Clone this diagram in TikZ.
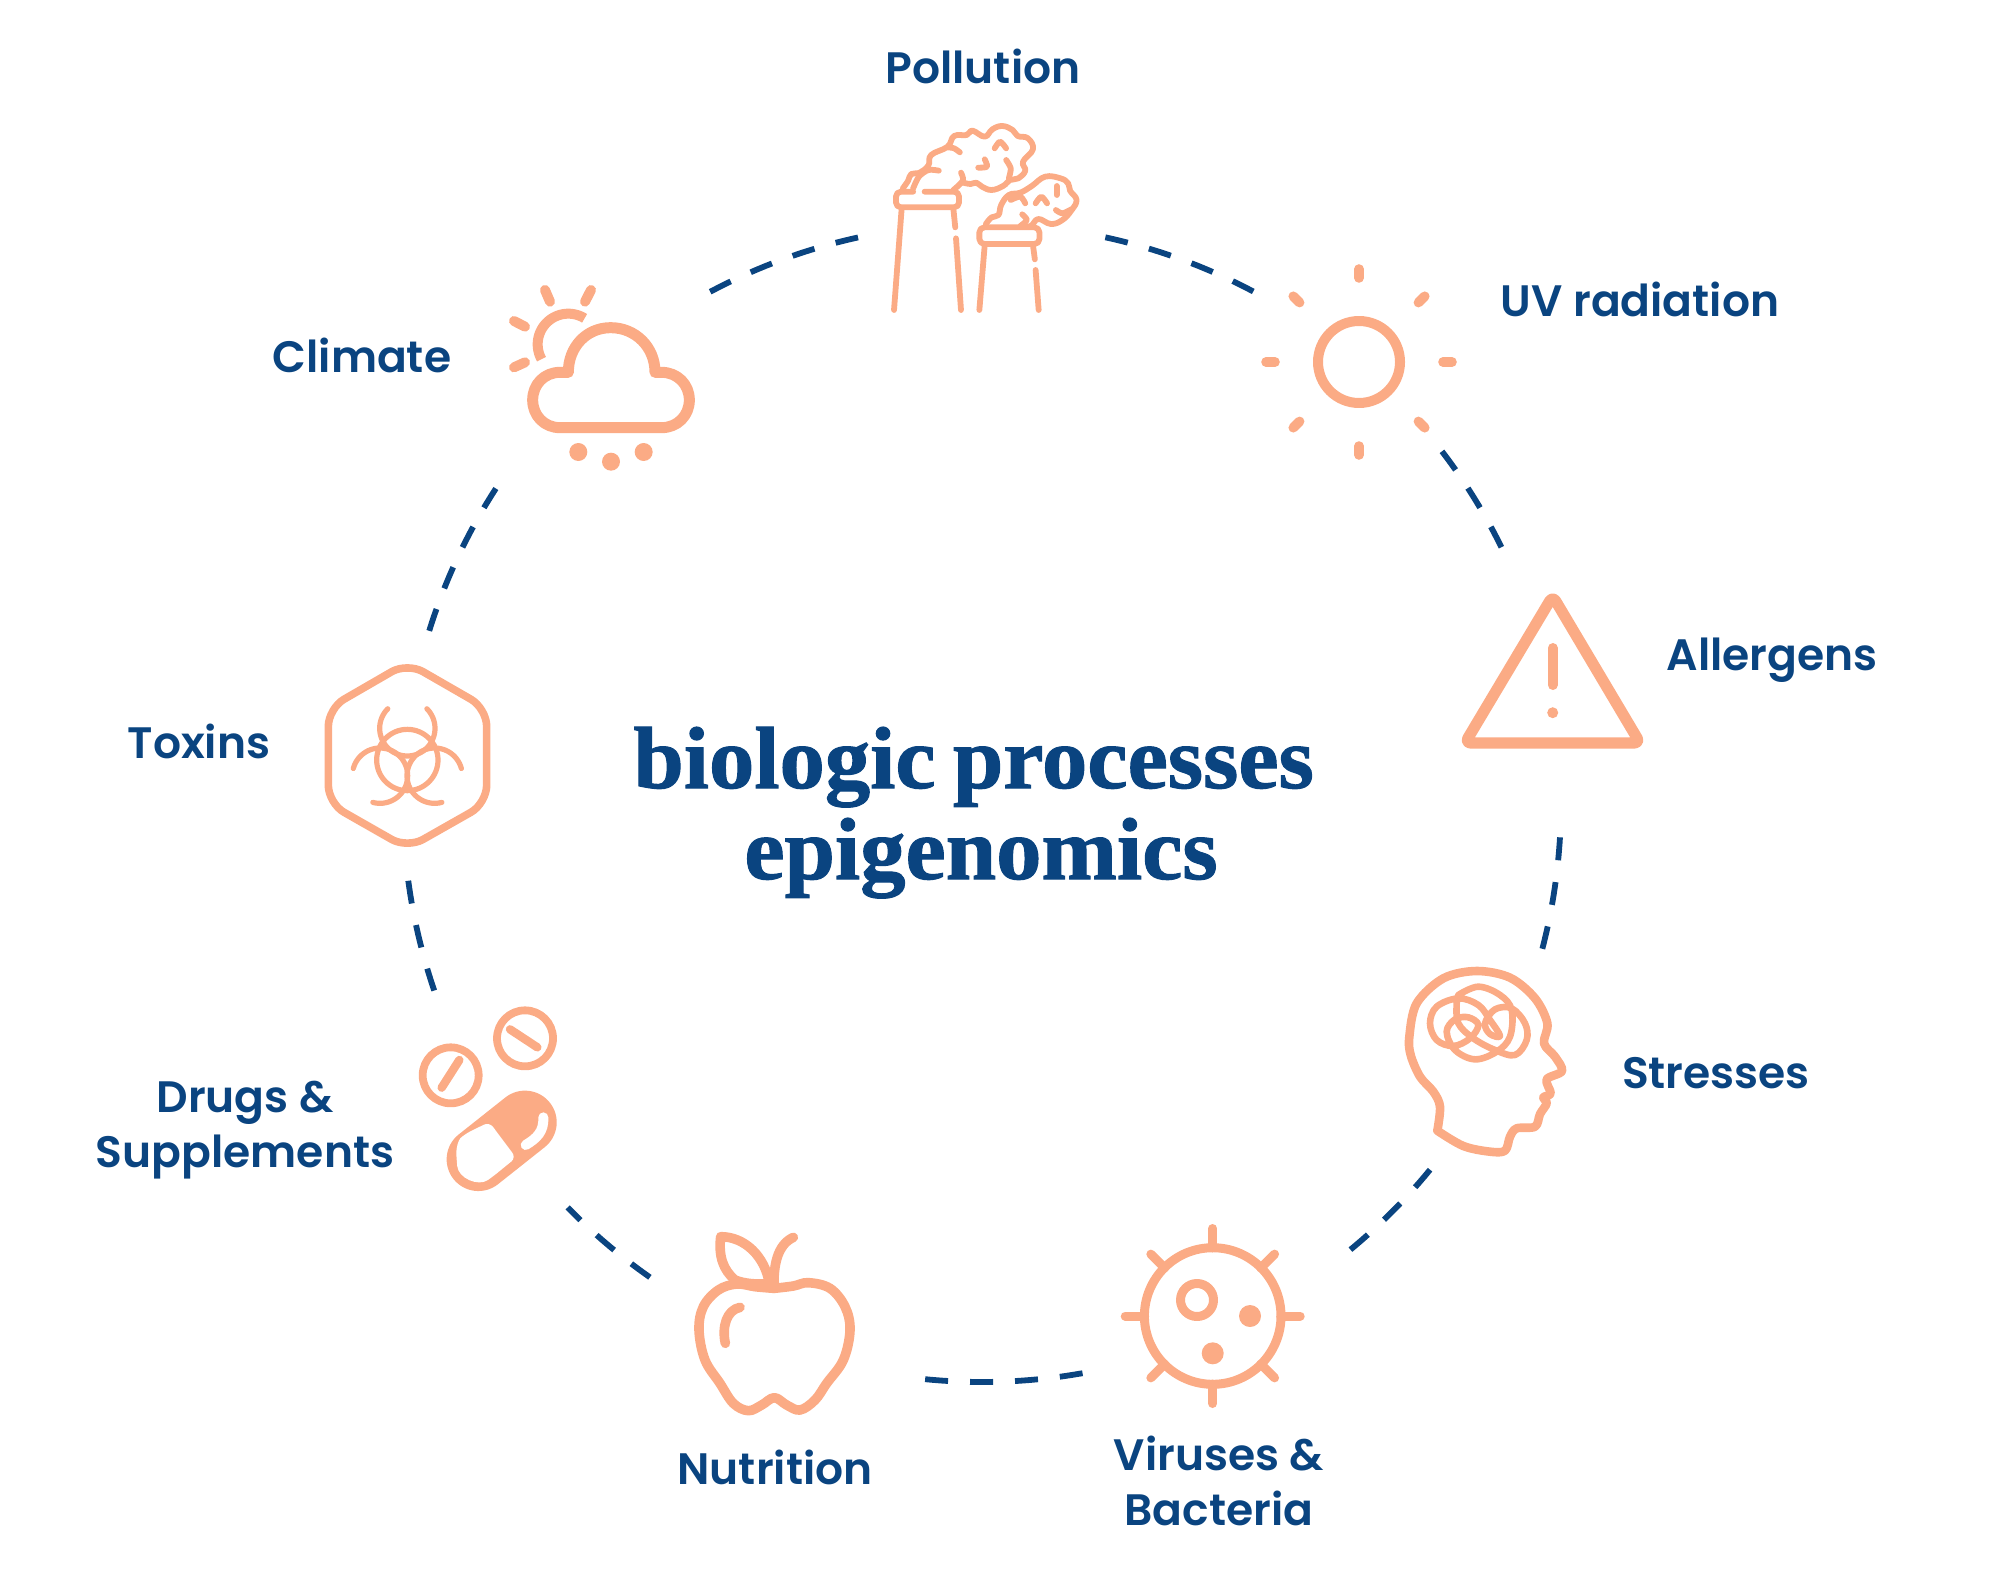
\documentclass[tikz,border=0pt]{standalone}
\usepackage{fontspec}
\setmainfont{Poppins SemiBold}[BoldFont={Poppins SemiBold},Ligatures=NoCommon]
\newfontfamily\titlefont{Liberation Serif Bold}[FakeStretch=1.03,FakeBold=1.2]
\definecolor{navy}{HTML}{0A4480}
\definecolor{peach}{HTML}{FBAB85}
\tikzset{
  label text/.style={text=navy,font=\fontsize{22}{26}\selectfont,anchor=base,inner sep=0pt},
  title text/.style={text=navy,font=\titlefont\fontsize{44}{50}\selectfont,anchor=base,inner sep=0pt},
  arcdash/.style={draw=navy,line width=2.9pt,dash pattern=on 11.5pt off 11pt},
  icon/.style={draw=peach,line width=#1,line cap=round,line join=round},
  icon/.default=4.5pt,
  dotfill/.style={fill=peach,draw=none},
  zthree/.style={x=0.16667pt,y=-0.16667pt},
  zfac/.style={x=0.19135pt,y=-0.16667pt}
}
\newcommand{\ringarc}[2]{\draw[arcdash] plot[domain=#1:#2,samples=40,smooth] ({982+579*cos(\x)},{803+579*sin(\x)});}
\begin{document}
\begin{tikzpicture}[x=0.5pt,y=-0.5pt]
\useasboundingbox (0,0) rectangle (2000,1583);
% dashed ring
\ringarc{-77.7}{-62.0}
\ringarc{-37.4}{-25.9}
\ringarc{3.4}{14.8}
\ringarc{39.3}{50.6}
\ringarc{80}{96.1}
\ringarc{125.0}{135.7}
\ringarc{161.1}{172.5}
\ringarc{197.3}{212.9}
\ringarc{242}{257.7}
% title
\node[title text] (t1) at (973.6,788) {biologic\hspace{-0.06em} processes};
\node[title text] (t2) at (981,879) {epigenomics};
% labels
\node[label text] (lpol) at (983,84) {Pollution};
\node[label text] (luv) at (1640,317) {UV radiation};
\node[label text] (lall) at (1772,670) {Allergens};
\node[label text] (lstr) at (1716,1088) {Stresses};
\node[label text] (lvir) at (1219,1470) {Viruses \&};
\node[label text] (lbac) at (1219,1525) {Bacteria};
\node[label text] (lnut) at (775,1484) {Nutrition};
\node[label text] (ldru) at (245,1112) {Drugs \&};
\node[label text] (lsup) at (245,1167) {Supplements};
\node[label text] (ltox) at (199,758) {Toxins};
\node[label text] (lcli) at (362,372) {Climate};
% UV sun
\draw[icon=5pt] (1359,362) circle (41);
\foreach \a in {0,45,...,315}{\draw[icon=4.8pt] ({1359+84*cos(\a)},{362+84*sin(\a)}) -- ({1359+93*cos(\a)},{362+93*sin(\a)});}
% allergen triangle
\draw[icon=5.6pt,rounded corners=3pt] (1552.7,596) -- (1640,743) -- (1465,743) -- cycle;
\draw[icon=5pt] (1552.7,648) -- (1552.7,685);
\fill[dotfill] (1552.7,712.7) circle (5.5);
% virus
\draw[icon=4.5pt] (1212.7,1316) circle (68.3);
\foreach \a in {0,45,...,315}{\draw[icon=4.5pt] ({1212.7+68*cos(\a)},{1316+68*sin(\a)}) -- ({1212.7+87.5*cos(\a)},{1316+87.5*sin(\a)});}
\draw[icon=4.5pt] (1197,1300) circle (16.5);
\fill[dotfill] (1250,1316) circle (11);
\fill[dotfill] (1212.7,1353.3) circle (11);
% head
\begin{scope}[shift={(1400,960)},zthree]
\draw[icon=4.3pt] plot[smooth,tension=0.55] coordinates {(112,512) (120,440) (100,395) (60,350) (32,285) (28,230) (50,130) (130,55) (230,33) (330,53) (405,115) (442,190) (432,250) (465,290) (486,333) (440,358) (452,400) (430,412) (440,430) (420,462) (405,500) (350,505) (330,530) (315,572) (270,575) (190,558) (112,512)};
\draw[icon=3.3pt] plot[smooth,tension=0.6] coordinates {(175,105) (235,80) (300,105) (335,150) (330,230) (290,275) (225,298) (165,270) (140,215) (165,178) (205,172) (235,195) (210,235) (160,258) (110,240) (90,190) (110,140) (175,115) (235,135) (270,180) (300,228) (270,222) (255,190) (285,148) (335,145) (375,190) (380,240) (345,285) (285,270) (220,235) (175,190) (170,130) (175,105)};
\end{scope}
% apple
\begin{scope}[shift={(680,1220)},zthree]
\draw[icon=4.8pt] plot[smooth,tension=0.6] coordinates {(282,205) (340,198) (385,188) (450,205) (495,260) (510,330) (490,420) (440,490) (405,540) (360,570) (320,555) (283,533) (245,555) (205,572) (160,550) (120,490) (75,420) (57,330) (70,260) (115,210) (170,192) (225,200) (282,205)};
\draw[icon=4.8pt] (282,205) .. controls (280,140) and (290,75) .. (340,52);
\draw[icon=4.8pt] (268,190) .. controls (255,110) and (195,50) .. (122,50) .. controls (115,110) and (130,150) .. (165,180) .. controls (190,190) and (230,195) .. (268,190);
\draw[icon=4.8pt] (180,262) .. controls (140,270) and (125,320) .. (136,370);
\end{scope}
% drugs
\begin{scope}[shift={(400,990)},zthree]
\draw[icon=3.9pt] (152,256) circle (84);
\draw[icon=4.2pt] (125,293) -- (178,210);
\draw[icon=3.9pt] (375,145) circle (84);
\draw[icon=4.2pt] (330,118) -- (412,172);
\draw[draw=peach,line width=31.7pt,line cap=round] (235,508) -- (375,397);
\fill[white,rounded corners=3pt] (268,396) -- (348,503) -- (278,560) .. controls (235,590) and (175,565) .. (170,510) .. controls (168,475) and (175,450) .. (195,432) -- cycle;
\draw[draw=white,line width=5pt,line cap=round] (377,465) .. controls (410,445) and (432,425) .. (430,382);
\end{scope}
% toxins
\begin{scope}[shift={(310,650)},zthree]
\draw[icon=3.8pt,rounded corners=9pt] (292,38) -- (530,175) -- (530,460) -- (292,595) -- (55,460) -- (55,175) -- cycle;
\draw[icon=2.6pt] plot[domain=-45:225,samples=50] ({292+83*cos(\x)},{235+83*sin(\x)});
\draw[icon=2.6pt] plot[domain=-165:105,samples=50] ({210+83*cos(\x)},{377+83*sin(\x)});
\draw[icon=2.6pt] plot[domain=75:345,samples=50] ({374+83*cos(\x)},{377+83*sin(\x)});
\draw[icon=2.6pt] (292,330) circle (92);
\end{scope}
% climate
\begin{scope}[shift={(480,260)},zthree]
\draw[icon=5.5pt] (240,337) -- (265,337) .. controls (265,260) and (320,203) .. (392,203) .. controls (465,203) and (525,260) .. (525,337) -- (545,337) .. controls (592,337) and (628,373) .. (628,420) .. controls (628,467) and (592,503) .. (545,503) -- (240,503) .. controls (193,503) and (158,467) .. (158,420) .. controls (158,373) and (193,337) .. (240,337);
\draw[draw=peach,line width=5pt] plot[domain=151:302,samples=40] ({265+92*cos(\x)},{253+92*sin(\x)});
\draw[icon=5pt] (195,90) -- (210,125);
\draw[icon=5pt] (333,90) -- (315,125);
\draw[icon=5pt] (102,183) -- (135,200);
\draw[icon=5pt] (102,322) -- (135,307);
\fill[dotfill] (295,576) circle (27);
\fill[dotfill] (393,605) circle (27);
\fill[dotfill] (491,576) circle (27);
\end{scope}
% pollution
\begin{scope}[shift={(850,20)},zfac]
\tikzset{every path/.append style={icon=2.9pt}}
\draw[rounded corners=2.5pt] (165,515) -- (120,515) -- (120,562) -- (285,562) -- (285,515) -- (195,515);
\draw (135,565) -- (115,870);
\draw (270,565) -- (275,622);
\draw (277,655) -- (290,870);
\draw[rounded corners=2.5pt] (338,622) -- (338,672) -- (495,672) -- (495,622) -- cycle;
\draw (352,675) -- (338,870);
\draw (478,675) -- (483,718);
\draw (485,750) -- (493,870);
\draw plot[smooth,tension=0.7] coordinates {(138,505) (152,482) (160,462) (182,458) (205,436) (212,405) (255,380) (272,348) (305,345) (320,332) (352,350) (372,328) (398,318) (425,330) (438,348) (465,355) (478,388) (452,425) (458,452) (440,475) (418,480) (400,498) (370,510) (345,500) (330,488) (315,492) (292,487)};
\draw plot[smooth] coordinates {(255,382) (272,385) (287,397)};
\draw plot[smooth] coordinates {(232,452) (205,450) (180,470) (165,505)};
\draw plot[smooth] coordinates {(290,458) (295,482) (270,510)};
\draw plot[smooth] coordinates {(378,385) (392,365) (408,385)};
\draw plot[smooth] coordinates {(352,418) (358,440) (335,443)};
\draw plot[smooth] coordinates {(408,420) (420,445) (415,475)};
\draw plot[smooth,tension=0.7] coordinates {(355,612) (370,592) (388,585) (395,555) (415,525) (445,518) (475,498) (510,470) (550,475) (570,490) (575,512) (592,540) (578,572) (555,600) (525,612) (492,597) (472,618) (445,620)};
\draw plot[smooth] coordinates {(450,583) (462,600) (445,618)};
\draw plot[smooth] coordinates {(458,550) (445,530) (420,540)};
\draw plot[smooth] coordinates {(485,550) (500,530) (515,550)};
\draw (540,498) -- (540,525);
\draw plot[smooth] coordinates {(538,570) (555,580) (578,568)};
\end{scope}
\end{tikzpicture}
\end{document}
